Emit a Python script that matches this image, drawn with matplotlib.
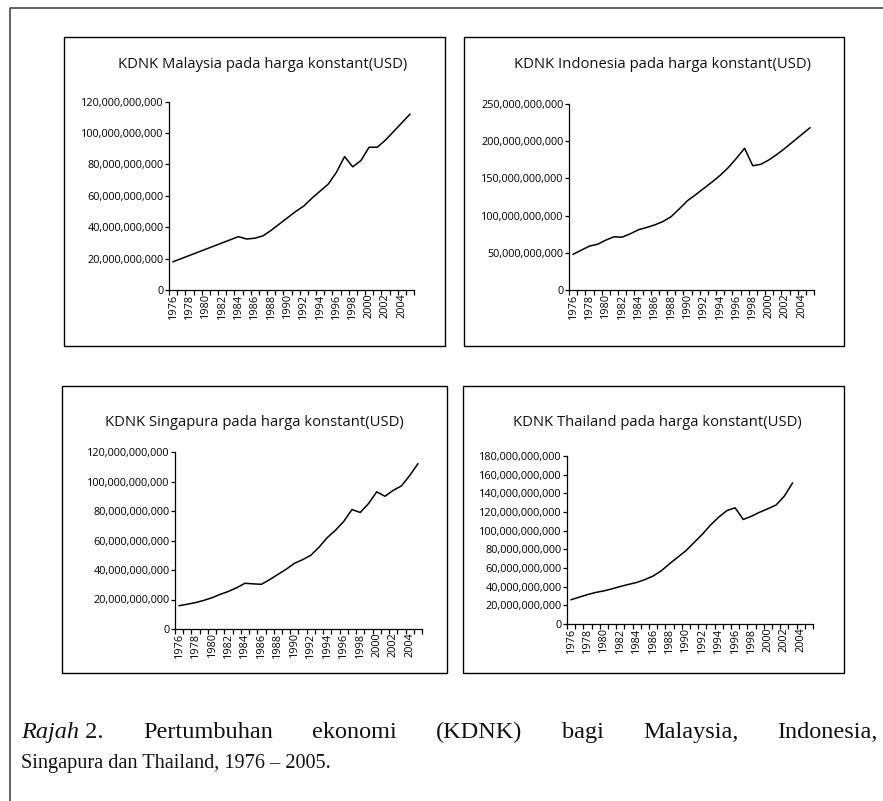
import matplotlib

matplotlib.use("Agg")
import matplotlib.pyplot as plt
from matplotlib.lines import Line2D
from matplotlib.patches import Rectangle
from matplotlib.ticker import FuncFormatter

plt.rcParams.update({
    "font.family": ["Open Sans", "DejaVu Sans"],
    "axes.linewidth": 0.9,
    "lines.linewidth": 1.1,
    "xtick.labelsize": 7.8,
    "ytick.labelsize": 7.8,
})

# ---------------------------------------------------------------------------
# Data: real GDP, billions of USD (read off the original figure)
# ---------------------------------------------------------------------------
years = list(range(1976, 2006))
years_th = list(range(1976, 2004))

gdp_malaysia = [18, 20, 22, 24, 26, 28, 30, 32, 34, 32.5,
                33, 34.5, 38, 42, 46, 50, 53.5, 58.5, 63, 67.5,
                75, 85, 78.5, 82.5, 91, 91, 95.5, 101, 106.5, 112]
gdp_indonesia = [48, 53.5, 59, 61.5, 67, 71.5, 71, 75.5, 81, 84,
                 87.5, 92, 98.5, 109, 120, 128, 136.5, 145, 154, 164.5,
                 177, 190.5, 167, 169, 175, 182.5, 191, 200, 209, 218]
gdp_singapura = [15.8, 16.8, 17.9, 19.4, 21.2, 23.5, 25.5, 28, 31, 30.6,
                 30.3, 33.5, 37, 40.5, 44.5, 47, 50, 55.5, 62, 67,
                 73, 81, 79, 85, 93, 90, 94, 97, 104, 112]
gdp_thailand = [26, 28.8, 31.5, 33.8, 35.5, 37.7, 40.2, 42.4, 44.5, 47.6,
                51.4, 57, 64.5, 71.5, 78.5, 87.3, 96.1, 106, 114.5, 121.5,
                124.5, 112, 115.5, 119.8, 123.5, 127.5, 137, 151]

titles = [
    "KDNK Malaysia pada harga konstant(USD)",
    "KDNK Indonesia pada harga konstant(USD)",
    "KDNK Singapura pada harga konstant(USD)",
    "KDNK Thailand pada harga konstant(USD)",
]
caption_words = ["Pertumbuhan", "ekonomi", "(KDNK)", "bagi",
                 "Malaysia,", "Indonesia,"]
caption_line2 = "Singapura dan Thailand, 1976 \u2013 2005."

W, H = 883, 801
INK = "#111111"
FRAME = "#4a4a4a"


def px_rect(l, t, r, b):
    """pixel box (top-left origin) -> figure fraction [x0, y0, w, h]"""
    return [l / W, 1 - b / H, (r - l) / W, (b - t) / H]


fig = plt.figure(figsize=(W / 100, H / 100), dpi=100)

# outer page frame (only top and left visible)
fig.add_artist(Line2D([9.5 / W, 9.5 / W, 1.0], [0.0, 1 - 7.5 / H, 1 - 7.5 / H],
                      transform=fig.transFigure, color=FRAME, lw=1.2))

# (series, x, ymax, ystep, panel box, axes box, title centre)
panels = [
    (gdp_malaysia, years, 120, 20, (64, 37, 445, 346), (169, 101.7, 414, 290), (263, 65)),
    (gdp_indonesia, years, 250, 50, (464, 37, 844, 346), (569, 104, 814, 290), (663, 65)),
    (gdp_singapura, years, 120, 20, (62, 386, 447, 673), (175, 452, 422, 629), (254, 423)),
    (gdp_thailand, years_th, 180, 20, (463, 386, 844, 673), (567, 456, 813, 624), (657, 423)),
]

fmt = FuncFormatter(lambda v, _: f"{v * 1e9:,.0f}")

for (vals, xs, ymax, ystep, box, abox, tpos), title in zip(panels, titles):
    bl, bt, br, bb = box
    fig.add_artist(Rectangle((bl / W, 1 - bb / H), (br - bl) / W, (bb - bt) / H,
                             transform=fig.transFigure, fill=False,
                             edgecolor="black", lw=1.0))
    fig.text(tpos[0] / W, 1 - tpos[1] / H, title, ha="center", va="center",
             fontsize=10.6, color=INK)

    ax = fig.add_axes(px_rect(*abox))
    ax.plot(xs, vals, color="black", clip_on=False)

    ax.set_xlim(years[0] - 0.5, years[-1] + 0.5)
    ax.set_ylim(0, ymax)
    ax.set_yticks(range(0, ymax + 1, ystep))
    ax.yaxis.set_major_formatter(fmt)

    # category axis: tick marks between years, labels every other year
    ax.set_xticks([y - 0.5 for y in years] + [years[-1] + 0.5], minor=True)
    ax.set_xticks(years[::2])
    ax.set_xticklabels([str(y) for y in years[::2]], rotation=90)
    ax.tick_params(axis="x", which="major", length=0, pad=2.5)
    ax.tick_params(axis="x", which="minor", length=3.8, width=0.9, direction="out")
    ax.tick_params(axis="y", length=3, width=0.9, pad=0.8)

    for sp in ("top", "right"):
        ax.spines[sp].set_visible(False)
    ax.patch.set_alpha(0)

# caption, first line justified between the margins
serif = ["Liberation Serif", "DejaVu Serif"]
cap_kw = dict(family=serif, fontsize=17.5, color=INK, va="baseline", ha="left")
x_left, x_right = 21, 878
y1, y2 = 1 - 738 / H, 1 - 768 / H
r = fig.canvas.get_renderer()
t = fig.text(x_left / W, y1, "Rajah", style="italic", **cap_kw)
x = x_left + t.get_window_extent(r).width
t = fig.text(x / W, y1, "\u00a02.", **cap_kw)
x += t.get_window_extent(r).width
widths = []
for w in caption_words:
    tmp = fig.text(0, 0, w, **cap_kw)
    widths.append(tmp.get_window_extent(r).width)
    tmp.remove()
gap = (x_right - x - sum(widths)) / len(caption_words)
for w, wd in zip(caption_words, widths):
    x += gap
    fig.text(x / W, y1, w, **cap_kw)
    x += wd
fig.text(x_left / W, y2, caption_line2, family=serif, fontsize=14.6,
         color=INK, va="baseline", ha="left")

fig.savefig("out.png", dpi=100)
